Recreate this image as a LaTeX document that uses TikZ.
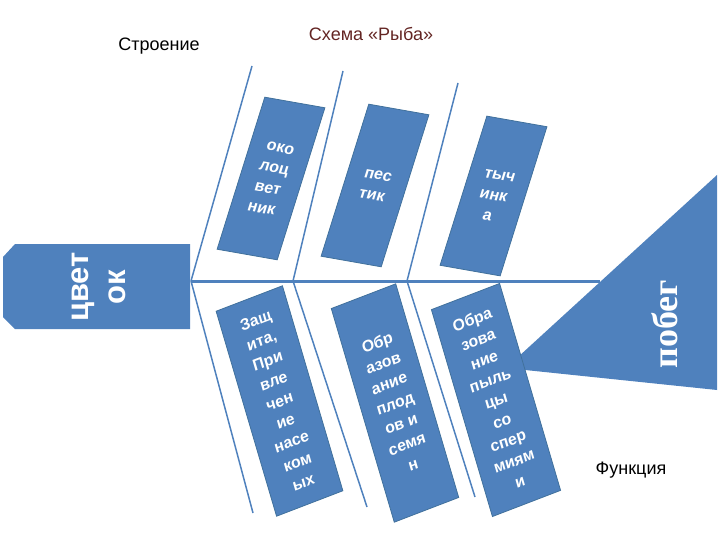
\documentclass[tikz,border=0pt]{standalone}
\usepackage{fontspec}
\setmainfont{Liberation Sans}
\newfontfamily\tailfont{Liberation Serif}
\definecolor{fishblue}{HTML}{4F81BD}
\definecolor{fishedge}{HTML}{41719C}
\definecolor{titlered}{HTML}{632523}

\begin{document}
\begin{tikzpicture}[x=1pt, y=-1pt,
		bone/.style={draw=fishblue, line width=1.5pt},
		spine/.style={draw=fishblue, line width=3pt},
		boxbase/.style={fill=fishblue, draw=fishedge, line width=0.8pt, inner sep=0pt,
			text=white, align=center, font=\bfseries\fontsize{16}{21}\selectfont},
		upbox/.style={boxbase, minimum width=61pt, minimum height=158pt, rotate=-10, xslant=0.13},
		downbox/.style={boxbase, minimum width=71pt, minimum height=215pt, rotate=21, xslant=0.08},
		caption/.style={font=\fontsize{18}{22}\selectfont}]
	\useasboundingbox (0,0) rectangle (720,540);

	% Macro for a bone of the fish.
	% Usage: \drawbone{tip}{root}
	\newcommand{\drawbone}[2]{
		\draw[bone] (#1) -- (#2);
	}

	% Points on the spine and ends of the bones
	\coordinate (rootA) at (191,281);
	\coordinate (rootB) at (293,281);
	\coordinate (rootC) at (407,281);
	\coordinate (spineend) at (600,281);
	\coordinate (tipA) at (252,66);
	\coordinate (tipB) at (343,71);
	\coordinate (tipC) at (458,83);
	\coordinate (footA) at (253,513);
	\coordinate (footB) at (367,507);
	\coordinate (footC) at (475,497);

	% Tail
	\fill[fishblue] (717,175) -- (506,368) -- (717,390) -- cycle;
	\node[rotate=90, text=white, font=\tailfont\bfseries\fontsize{36}{40}\selectfont] (shoot) at (665,324) {побег};

	% Spine and bones
	\draw[spine] (rootA) -- (spineend);
	\drawbone{tipA}{rootA};
	\drawbone{tipB}{rootB};
	\drawbone{tipC}{rootC};
	\drawbone{footA}{rootA};
	\drawbone{footB}{rootB};
	\drawbone{footC}{rootC};

	% Head
	\fill[fishblue] (190,244) -- (15,244) -- (3,257) -- (3,317) -- (15,329) -- (190,329) -- cycle;
	\node[rotate=90, text=white, align=center, font=\bfseries\fontsize{31}{37}\selectfont] (flower) at (99,287) {цвет\\ок};

	% Structure
	\node[upbox] (perianth) at (271,178.5) {око\\лоц\\вет\\ник};
	\node[upbox] (pistil) at (375,185.5) {пес\\тик};
	\node[upbox, minimum height=155pt] (stamen) at (493.5,196) {тыч\\инк\\а};

	% Function
	\node[downbox, minimum height=213pt] (guard) at (279.5,401) {Защ\\ита,\\При\\вле\\чен\\ие\\насе\\ком\\ых};
	\node[downbox, minimum width=69pt, minimum height=222pt] (fruit) at (395,403) {Обр\\азов\\ание\\плод\\ов и\\семя\\н};
	\node[downbox, minimum width=73pt] (pollen) at (496,400) {Обра\\зова\\ние\\пыль\\цы\\со\\спер\\миям\\и};

	% Captions
	\node[caption] (structure) at (159,46) {Строение};
	\node[caption, text=titlered] (title) at (371,34) {Схема «Рыба»};
	\node[caption] (function) at (631,470) {Функция};
\end{tikzpicture}
\end{document}
